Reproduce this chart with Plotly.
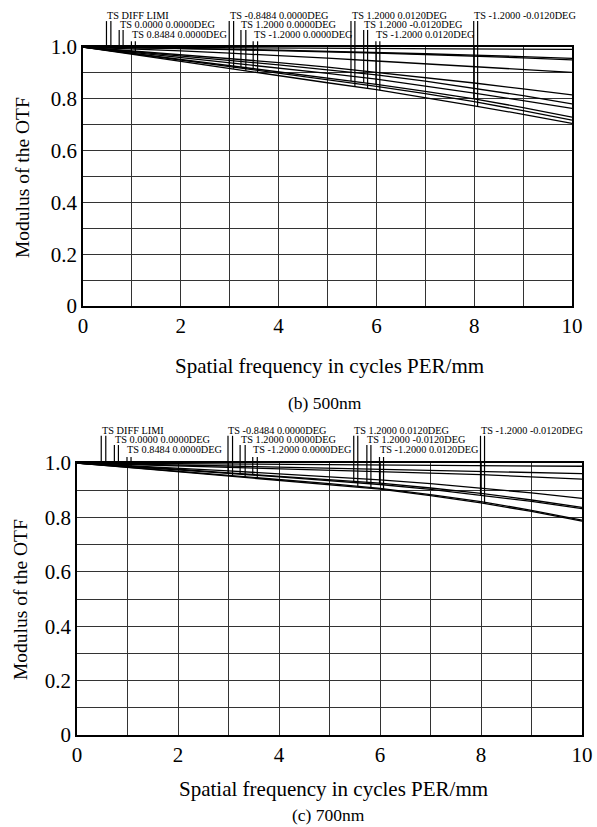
import numpy as np
import plotly.graph_objects as go

# ---------------- data ----------------
freq = [0, 1, 2, 3, 4, 5, 6, 7, 8, 9, 10]

# (b) 500nm  -- distinct MTF curves (T / S)
b_diff   = [1.000, 0.999, 0.999, 0.998, 0.997, 0.996, 0.995, 0.994, 0.993, 0.992, 0.991]
b_f0_t   = [1.000, 0.998, 0.995, 0.992, 0.988, 0.984, 0.979, 0.974, 0.969, 0.963, 0.956]
b_f0_s   = [1.000, 0.998, 0.994, 0.990, 0.986, 0.981, 0.976, 0.971, 0.965, 0.958, 0.950]
b_f1_t   = [1.000, 0.993, 0.985, 0.976, 0.967, 0.957, 0.946, 0.935, 0.925, 0.914, 0.902]
b_f1_s   = [1.000, 0.985, 0.970, 0.955, 0.940, 0.922, 0.902, 0.882, 0.861, 0.838, 0.815]
b_f2_t   = [1.000, 0.983, 0.966, 0.949, 0.931, 0.912, 0.892, 0.868, 0.841, 0.812, 0.780]
b_f2_s   = [1.000, 0.980, 0.960, 0.940, 0.919, 0.898, 0.876, 0.850, 0.822, 0.793, 0.763]
b_f3_t   = [1.000, 0.976, 0.952, 0.928, 0.904, 0.880, 0.856, 0.829, 0.800, 0.766, 0.729]
b_f3_s   = [1.000, 0.975, 0.950, 0.925, 0.900, 0.874, 0.848, 0.820, 0.789, 0.754, 0.718]
b_f4_s   = [1.000, 0.972, 0.945, 0.918, 0.890, 0.862, 0.835, 0.805, 0.773, 0.740, 0.705]

# (c) 700nm
c_diff   = [1.000, 0.999, 0.998, 0.997, 0.996, 0.995, 0.994, 0.993, 0.992, 0.990, 0.988]
c_f0_t   = [1.000, 0.997, 0.993, 0.989, 0.985, 0.981, 0.977, 0.973, 0.968, 0.965, 0.961]
c_f0_s   = [1.000, 0.995, 0.990, 0.985, 0.980, 0.975, 0.969, 0.963, 0.957, 0.949, 0.941]
c_f1_t   = [1.000, 0.991, 0.981, 0.971, 0.960, 0.950, 0.938, 0.924, 0.908, 0.890, 0.870]
c_f1_s   = [1.000, 0.989, 0.977, 0.964, 0.952, 0.939, 0.926, 0.908, 0.888, 0.864, 0.837]
c_f2_t   = [1.000, 0.988, 0.975, 0.962, 0.949, 0.935, 0.921, 0.903, 0.882, 0.859, 0.832]
c_f2_s   = [1.000, 0.985, 0.970, 0.955, 0.939, 0.924, 0.907, 0.884, 0.858, 0.826, 0.790]
c_f3_s   = [1.000, 0.984, 0.969, 0.953, 0.937, 0.921, 0.904, 0.880, 0.853, 0.822, 0.786]

# field labels, label frequencies (T line, S line), label row
field_labels = ["TS DIFF LIMI", "TS 0.0000 0.0000DEG", "TS 0.8484 0.0000DEG",
                "TS -0.8484 0.0000DEG", "TS 1.2000 0.0000DEG", "TS -1.2000 0.0000DEG",
                "TS 1.2000 0.0120DEG", "TS 1.2000 -0.0120DEG", "TS -1.2000 0.0120DEG",
                "TS -1.2000 -0.0120DEG"]
label_freq_t = [0.48, 0.74, 0.99, 2.99, 3.23, 3.48, 5.48, 5.74, 5.99, 7.99]
label_freq_s = [0.57, 0.82, 1.07, 3.08, 3.33, 3.57, 5.56, 5.82, 6.07, 8.07]
label_row    = [0, 1, 2, 0, 1, 2, 0, 1, 2, 0]

# which curve each field's label lines point to
b_curves_t = [b_diff, b_f0_t, b_f3_t, b_f3_t, b_f3_t, b_f3_t, b_f3_t, b_f3_t, b_f3_t, b_f3_t]
b_curves_s = [b_diff, b_f0_s, b_f4_s, b_f4_s, b_f4_s, b_f4_s, b_f4_s, b_f4_s, b_f4_s, b_f4_s]
c_curves_t = [c_diff, c_f0_t, c_f2_t, c_f2_t, c_f2_t, c_f2_t, c_f2_t, c_f2_t, c_f2_t, c_f2_t]
c_curves_s = [c_diff, c_f0_s, c_f2_s, c_f2_s, c_f2_s, c_f2_s, c_f2_s, c_f2_s, c_f3_s, c_f3_s]

b_all = [b_diff, b_f0_t, b_f0_s, b_f1_t, b_f1_s, b_f2_t, b_f2_s, b_f3_t, b_f3_s, b_f4_s]
c_all = [c_diff, c_f0_t, c_f0_s, c_f1_t, c_f1_s, c_f2_t, c_f2_s, c_f3_s]

y_tickvals = [0, 0.1, 0.2, 0.3, 0.4, 0.5, 0.6, 0.7, 0.8, 0.9, 1.0]
y_ticktext = ["0", "", "0.2", "", "0.4", "", "0.6", "", "0.8", "", "1.0"]
x_tickvals = [0, 1, 2, 3, 4, 5, 6, 7, 8, 9, 10]
x_ticktext = ["0", "", "2", "", "4", "", "6", "", "8", "", "10"]

# ---------------- figure ----------------
W, H = 597, 827
FONT = "Liberation Serif"
fig = go.Figure()

panels = [
    dict(xa="x", ya="y", all=b_all, ct=b_curves_t, cs=b_curves_s),
    dict(xa="x2", ya="y2", all=c_all, ct=c_curves_t, cs=c_curves_s),
]

for p in panels:
    for c in p["all"]:
        fig.add_trace(go.Scatter(x=freq, y=c, mode="lines",
                                 line=dict(color="black", width=1.3),
                                 xaxis=p["xa"], yaxis=p["ya"],
                                 showlegend=False, hoverinfo="skip"))

row_text_y = [1.121, 1.085, 1.049]
row_line_top = [1.100, 1.066, 1.022]
xmin, xmax = x_tickvals[0], x_tickvals[-1]

shapes, annotations = [], []
for p in panels:
    xd = p["xa"] + " domain"
    yd = p["ya"] + " domain"
    for i, lab in enumerate(field_labels):
        for f, curve in ((label_freq_t[i], p["ct"][i]), (label_freq_s[i], p["cs"][i])):
            v = float(np.interp(f, freq, curve))
            xf = (f - xmin) / (xmax - xmin)
            shapes.append(dict(type="line", xref=xd, yref=yd, x0=xf, x1=xf,
                               y0=v, y1=row_line_top[label_row[i]],
                               line=dict(color="black", width=1.2)))
        annotations.append(dict(text=lab, xref=xd, yref=yd,
                                x=(label_freq_t[i] - xmin) / (xmax - xmin) - 0.003,
                                y=row_text_y[label_row[i]],
                                xanchor="left", yanchor="middle", showarrow=False,
                                font=dict(family=FONT, size=10.3, color="black")))

def paper(px, py):
    return px / W, 1 - py / H

for (px, py) in [(22, 178), (20, 600)]:
    x, y = paper(px, py)
    annotations.append(dict(text="Modulus of the OTF", xref="paper", yref="paper",
                            x=x, y=y, textangle=-90, showarrow=False,
                            xanchor="center", yanchor="middle",
                            font=dict(family=FONT, size=19.5, color="black")))
for (px, py) in [(329, 366), (333, 789)]:
    x, y = paper(px, py)
    annotations.append(dict(text="Spatial frequency in cycles PER/mm", xref="paper", yref="paper",
                            x=x, y=y, showarrow=False, xanchor="center", yanchor="middle",
                            font=dict(family=FONT, size=21, color="black")))
for (txt, px, py) in [("(b) 500nm", 325, 403), ("(c) 700nm", 328, 815)]:
    x, y = paper(px, py)
    annotations.append(dict(text=txt, xref="paper", yref="paper",
                            x=x, y=y, showarrow=False, xanchor="center", yanchor="middle",
                            font=dict(family=FONT, size=17.5, color="black")))

axis_common = dict(showgrid=True, gridcolor="#333333", gridwidth=1, zeroline=False,
                   showline=True, mirror=True, linecolor="black", linewidth=1.5,
                   ticks="", tickfont=dict(family=FONT, size=21, color="black"),
                   fixedrange=True, automargin=False)

fig.update_layout(
    width=W, height=H, margin=dict(l=0, r=0, t=0, b=0),
    paper_bgcolor="white", plot_bgcolor="white",
    xaxis=dict(domain=[83 / W, 572 / W], range=[xmin, xmax], anchor="y",
               tickvals=x_tickvals, ticktext=x_ticktext, **axis_common),
    yaxis=dict(domain=[1 - 306 / H, 1 - 47 / H], range=[0, 1], anchor="x",
               tickvals=y_tickvals, ticktext=y_ticktext, **axis_common),
    xaxis2=dict(domain=[77 / W, 582 / W], range=[xmin, xmax], anchor="y2",
                tickvals=x_tickvals, ticktext=x_ticktext, **axis_common),
    yaxis2=dict(domain=[1 - 735 / H, 1 - 463 / H], range=[0, 1], anchor="x2",
                tickvals=y_tickvals, ticktext=y_ticktext, **axis_common),
    shapes=shapes, annotations=annotations,
)

fig.write_html("out.html")
